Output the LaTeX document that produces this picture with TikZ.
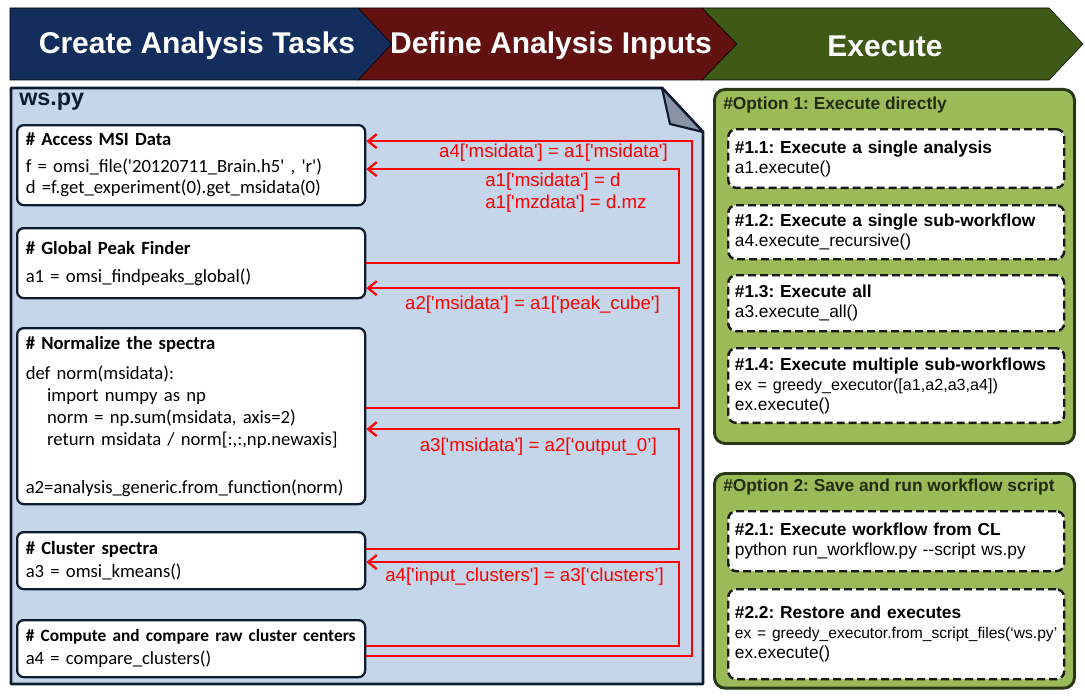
\documentclass[tikz,border=0pt]{standalone}
\usepackage{fontspec}
\setmainfont{Liberation Sans}[Ligatures=TeXOff]
\newfontfamily\calibri{Carlito}[Ligatures=TeXOff]
\usetikzlibrary{arrows.meta}
\frenchspacing

\definecolor{bandblue}{RGB}{19,46,93}
\definecolor{bandred}{RGB}{98,17,17}
\definecolor{bandgreen}{RGB}{63,89,22}
\definecolor{wsfill}{RGB}{197,214,234}
\definecolor{wsline}{RGB}{15,27,48}
\definecolor{foldgray}{RGB}{136,148,166}
\definecolor{optfill}{RGB}{155,187,89}
\definecolor{optline}{RGB}{40,55,20}

\tikzset{
  bandtext/.style={text=white, font=\bfseries\fontsize{22.5}{26}\selectfont},
  codebox/.style={draw=wsline, line width=1.7pt, rounded corners=5pt, fill=white, anchor=north west,
    minimum width=261pt, text width=248pt, inner xsep=6.5pt, align=left,
    font=\calibri\fontsize{14}{16}\selectfont},
  link/.style={draw=red, line width=1.7pt, -{Straight Barb[length=6.5pt,width=10.5pt]}},
  linklabel/.style={text=red, inner sep=0pt, font=\fontsize{14}{16.5}\selectfont},
  optpanel/.style={draw=optline, line width=2.2pt, rounded corners=8pt, fill=optfill, anchor=north west,
    minimum width=270pt},
  opttitle/.style={anchor=west, inner sep=0pt, text=optline!80!black, font=\bfseries\fontsize{13}{15}\selectfont},
  casebox/.style={draw=black!90, dashed, dash pattern=on 6pt off 3pt, line width=1.8pt, rounded corners=6pt,
    fill=white, anchor=north west, minimum width=252pt, text width=242pt, inner xsep=5pt, align=left,
    font=\fontsize{13}{15}\selectfont},
}

\begin{document}
\begin{tikzpicture}[x=0.75pt,y=0.75pt,yscale=-1,xscale=1]
\useasboundingbox (0,0) rectangle (1085,699);

%Shape: Chevron band
\draw[fill=bandblue] (10,8) -- (358,8) -- (392,44) -- (358,80) -- (10,80) -- cycle ;
\draw[fill=bandred] (358,8) -- (702,8) -- (737,44) -- (702,80) -- (358,80) -- (392,44) -- cycle ;
\draw[fill=bandgreen] (702,8) -- (1049,8) -- (1083,44) -- (1049,80) -- (702,80) -- (737,44) -- cycle ;
% Text Node
\node[bandtext] (create) at (197,46) {Create Analysis Tasks};
\node[bandtext] (define) at (551,46) {Define Analysis Inputs};
\node[bandtext] (execute) at (885,46) {Execute};

%Shape: Document ws.py
\draw[draw=wsline, line width=2.2pt, fill=wsfill, line join=round] (11,88) -- (662,88) -- (703,132) -- (703,684) -- (11,684) -- cycle ;
\draw[draw=wsline, line width=1.6pt, fill=foldgray, line join=round] (662,88) -- (670,124) -- (703,132) -- cycle ;
\node[anchor=west, inner sep=0pt, text=wsline, font=\bfseries\fontsize{17.5}{19}\selectfont] (wstitle) at (19,102) {ws.py};

%Code boxes
\node[codebox, minimum height=60pt] (access) at (16,124) {\textbf{\# Access MSI Data}\\[4pt]
  f = omsi\_file('20120711\_Brain.h5' , 'r')\\
  d =f.get\_experiment(0).get\_msidata(0)};
\node[codebox, minimum height=52.5pt] (peak) at (16,227) {\textbf{\# Global Peak Finder}\\[5pt]
  a1 = omsi\_findpeaks\_global()};
\node[codebox, minimum height=132pt, font=\calibri\fontsize{14}{16.5}\selectfont] (norm) at (16,327) {\textbf{\# Normalize the spectra}\\[6pt]
  def norm(msidata):\\
  \hspace*{16pt}import numpy as np\\
  \hspace*{16pt}norm = np.sum(msidata, axis=2)\\
  \hspace*{16pt}return msidata / norm[:,:,np.newaxis]\\[19.5pt]
  a2=analysis\_generic.from\_function(norm)};
\node[codebox, minimum height=42.75pt] (cluster) at (16,531) {\textbf{\# Cluster spectra}\\[1pt]
  a3 = omsi\_kmeans()};
\node[codebox, minimum height=42.75pt] (compare) at (16,619) {\textbf{\fontsize{13}{16}\selectfont\# Compute and compare raw cluster centers}\\[1pt]
  a4 = compare\_clusters()};

%Red connectors
\draw[link] ([yshift=5.6pt]compare.east) -- ++(326,0) |- ([yshift=-18pt]access.east) ;
\draw[link] (peak.east) -- ++(313,0) |- ([yshift=3pt]access.east) ;
\draw[link] ([yshift=-6pt]norm.east) -- ++(313,0) |- ([yshift=18.75pt]peak.east) ;
\draw[link] ([yshift=-8.6pt]cluster.east) -- ++(313,0) |- ([yshift=9.75pt]norm.east) ;
\draw[link] ([yshift=-1.9pt]compare.east) -- ++(313,0) |- ([yshift=1.1pt]cluster.east) ;

% Text Node
\node[linklabel, anchor=east] (inmsi) at (668,153) {a4['msidata'] = a1['msidata']};
\node[linklabel, anchor=north west, align=left] (inraw) at (485,173) {a1['msidata'] = d\\a1['mzdata'] = d.mz};
\node[linklabel, anchor=east] (inpeak) at (660,305) {a2['msidata'] = a1['peak\_cube']};
\node[linklabel, anchor=east] (innorm) at (657,447) {a3['msidata'] = a2[‘output\_0’]};
\node[linklabel, anchor=east] (inclust) at (664,577) {a4['input\_clusters'] = a3[‘clusters’]};

%Option 1 panel
\node[optpanel, minimum height=265.5pt] (opt1) at (713,88) {};
\node[opttitle] (opt1title) at (723,105) {\#Option 1: Execute directly};
\node[casebox, minimum height=44pt] (case11) at (727,128) {\textbf{\#1.1: Execute a single analysis}\\
  a1.execute()};
\node[casebox, minimum height=40.5pt] (case12) at (727,204) {\textbf{\#1.2: Execute a single sub-workflow}\\
  a4.execute\_recursive()};
\node[casebox, minimum height=42pt] (case13) at (727,274) {\textbf{\#1.3: Execute all}\\
  a3.execute\_all()};
\node[casebox, minimum height=56pt] (case14) at (727,347) {\textbf{\#1.4: Execute multiple sub-workflows}\\
  {\fontsize{12.1}{15}\selectfont ex = greedy\_executor([a1,a2,a3,a4])}\\
  ex.execute()};

%Option 2 panel
\node[optpanel, minimum height=161pt] (opt2) at (713,472) {};
\node[opttitle] (opt2title) at (723,487) {\#Option 2: Save and run workflow script};
\node[casebox, minimum height=45pt] (case21) at (727,510) {\textbf{\#2.1: Execute workflow from CL}\\
  python run\_workflow.py --script ws.py};
\node[casebox, minimum height=67.5pt] (case22) at (727,588) {\textbf{\#2.2: Restore and executes}\\
  \mbox{\fontsize{11.7}{15}\selectfont ex = greedy\_executor.from\_script\_files(‘ws.py’}\\
  ex.execute()};

\end{tikzpicture}
\end{document}
